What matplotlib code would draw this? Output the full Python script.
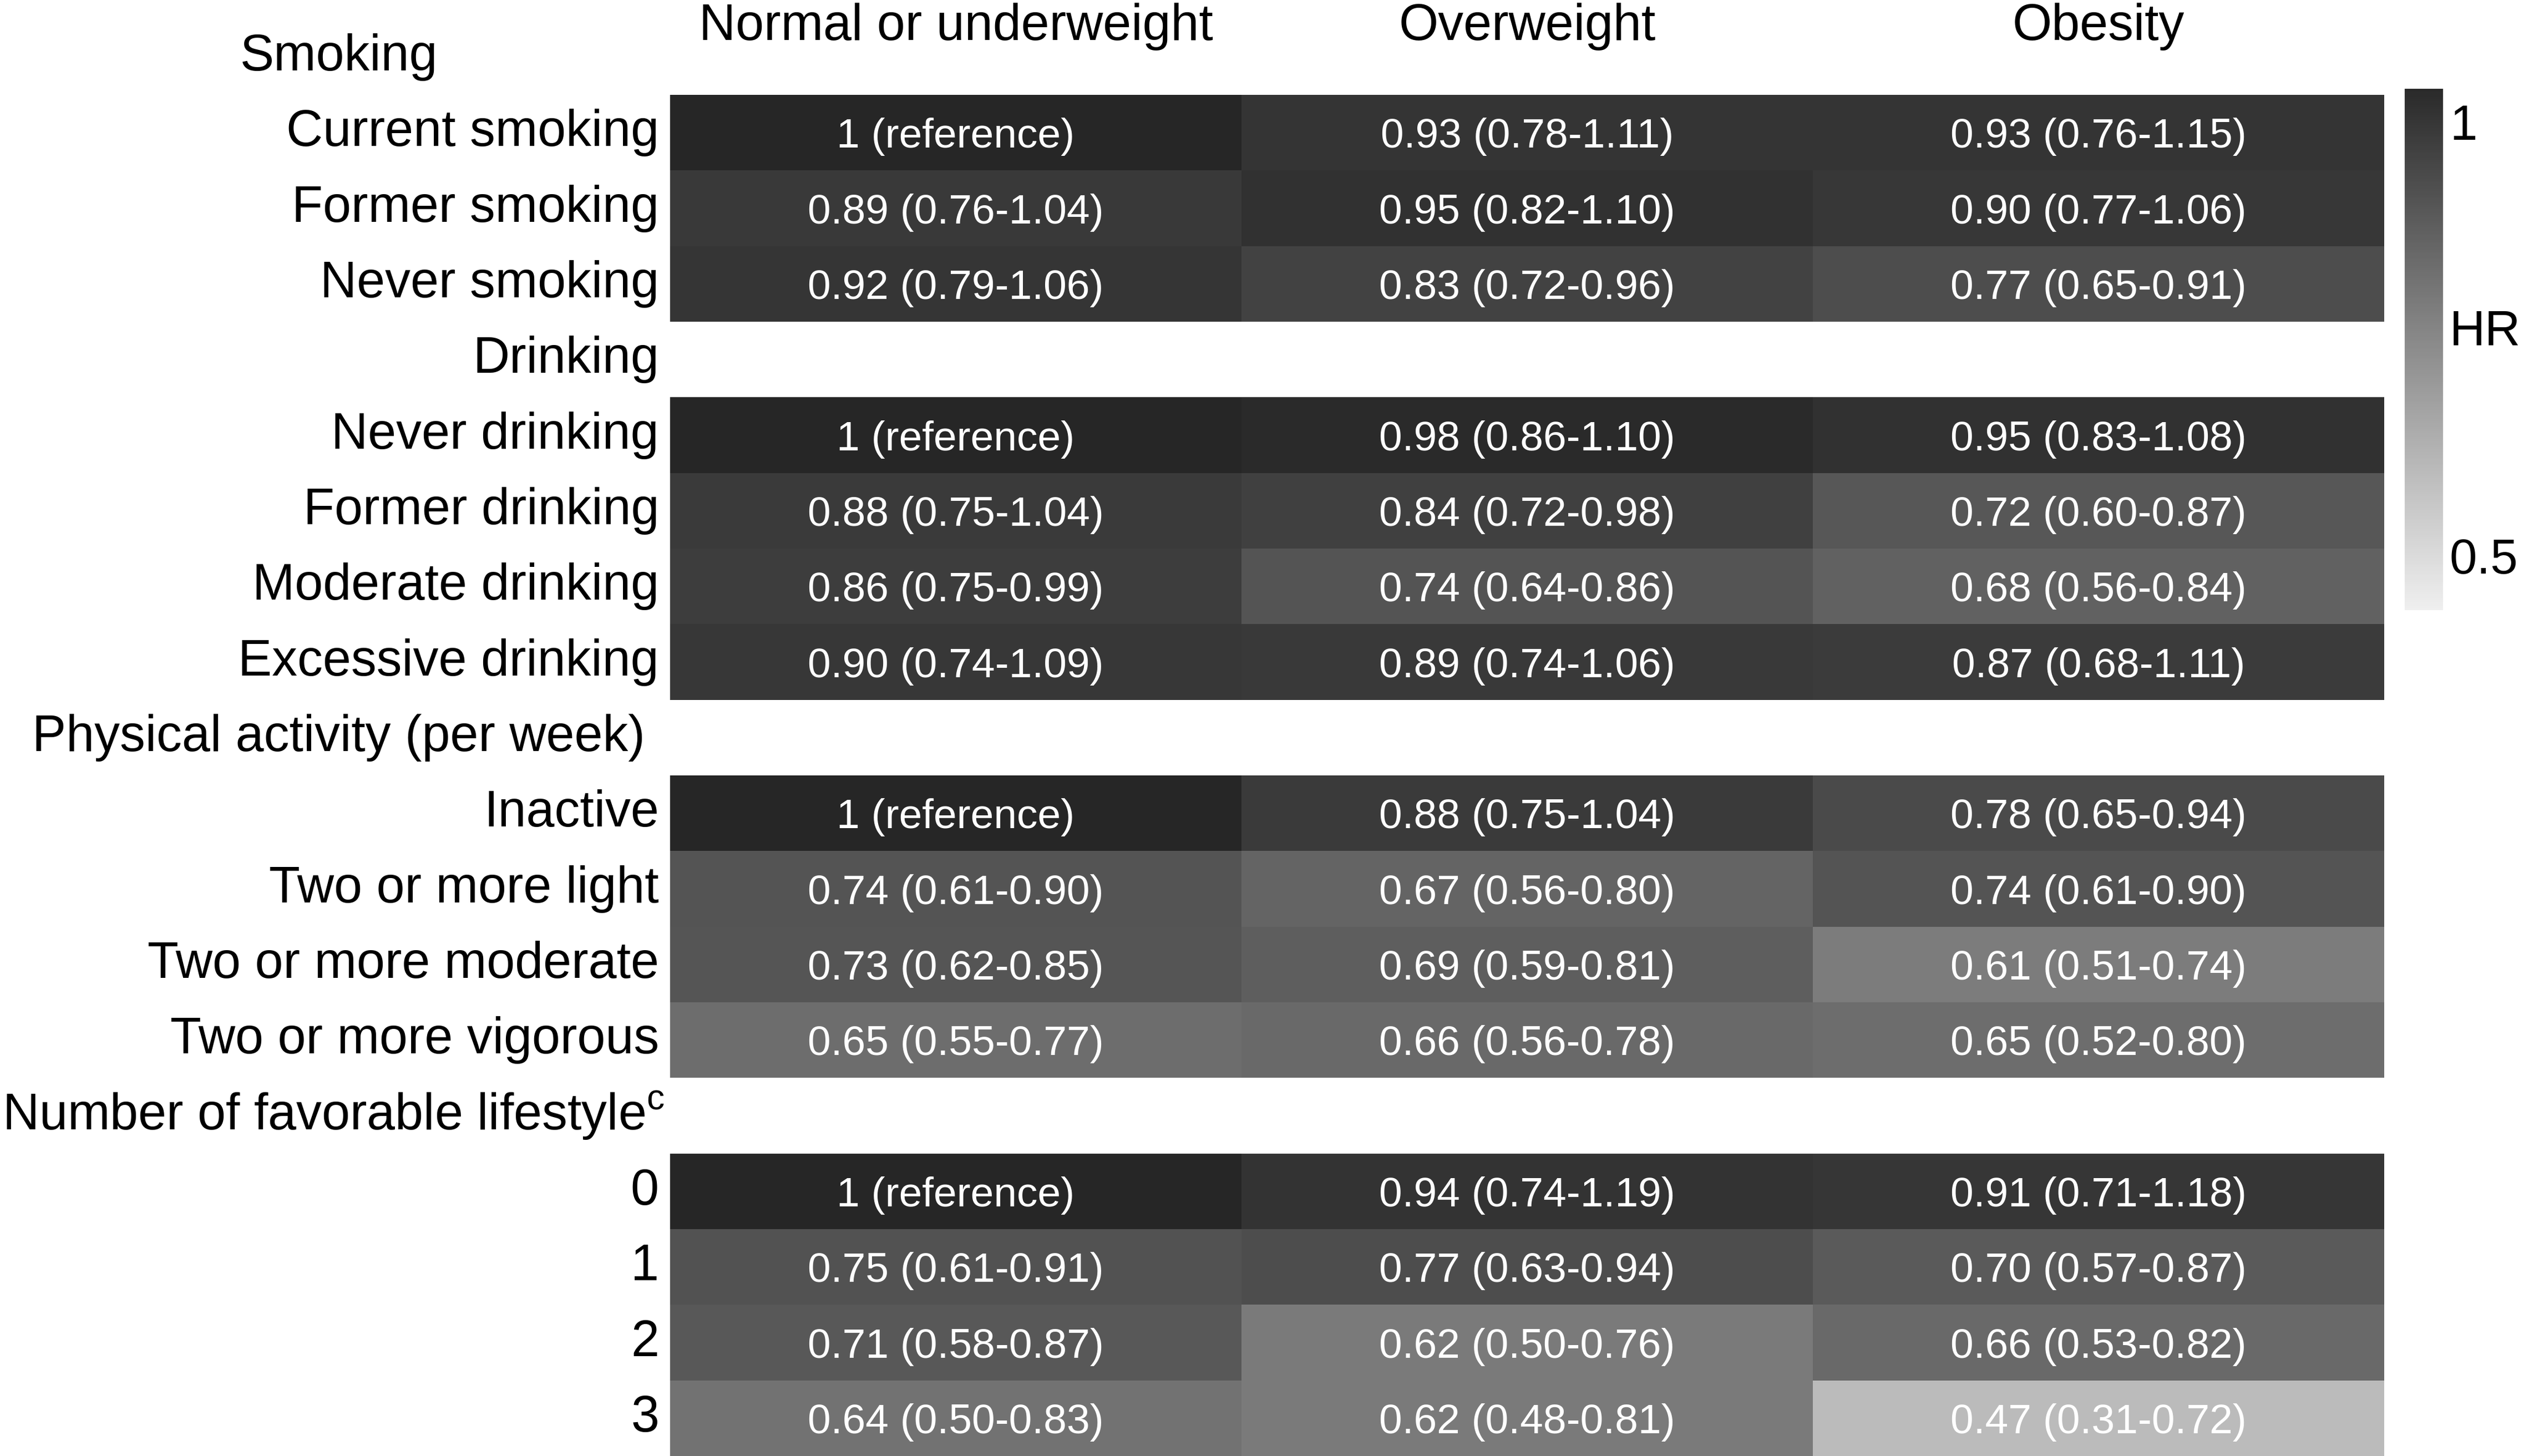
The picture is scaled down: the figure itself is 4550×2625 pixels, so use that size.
import numpy as np
import matplotlib
matplotlib.use('Agg')
import matplotlib.pyplot as plt
from matplotlib.colors import LinearSegmentedColormap, Normalize
from matplotlib.cm import ScalarMappable

plt.rcParams['font.family'] = ['Liberation Sans', 'DejaVu Sans']
plt.rcParams['mathtext.fontset'] = 'custom'
plt.rcParams['mathtext.rm'] = 'Liberation Sans'

bmi_groups = ["Normal or underweight", "Overweight", "Obesity"]
groups = ["Smoking", "Drinking", "Physical activity (per week)",
          r"Number of favorable lifestyle$^{\mathrm{c}}$"]
items = [["Current smoking", "Former smoking", "Never smoking"],
         ["Never drinking", "Former drinking", "Moderate drinking", "Excessive drinking"],
         ["Inactive", "Two or more light", "Two or more moderate", "Two or more vigorous"],
         ["0", "1", "2", "3"]]

# hazard ratios and 95% CI, one entry per item row (None = reference)
hr_normal = [1, 0.89, 0.92, 1, 0.88, 0.86, 0.90, 1, 0.74, 0.73, 0.65, 1, 0.75, 0.71, 0.64]
lo_normal = [None, 0.76, 0.79, None, 0.75, 0.75, 0.74, None, 0.61, 0.62, 0.55, None, 0.61, 0.58, 0.50]
hi_normal = [None, 1.04, 1.06, None, 1.04, 0.99, 1.09, None, 0.90, 0.85, 0.77, None, 0.91, 0.87, 0.83]

hr_over = [0.93, 0.95, 0.83, 0.98, 0.84, 0.74, 0.89, 0.88, 0.67, 0.69, 0.66, 0.94, 0.77, 0.62, 0.62]
lo_over = [0.78, 0.82, 0.72, 0.86, 0.72, 0.64, 0.74, 0.75, 0.56, 0.59, 0.56, 0.74, 0.63, 0.50, 0.48]
hi_over = [1.11, 1.10, 0.96, 1.10, 0.98, 0.86, 1.06, 1.04, 0.80, 0.81, 0.78, 1.19, 0.94, 0.76, 0.81]

hr_obese = [0.93, 0.90, 0.77, 0.95, 0.72, 0.68, 0.87, 0.78, 0.74, 0.61, 0.65, 0.91, 0.70, 0.66, 0.47]
lo_obese = [0.76, 0.77, 0.65, 0.83, 0.60, 0.56, 0.68, 0.65, 0.61, 0.51, 0.52, 0.71, 0.57, 0.53, 0.31]
hi_obese = [1.15, 1.06, 0.91, 1.08, 0.87, 0.84, 1.11, 0.94, 0.90, 0.74, 0.80, 1.18, 0.87, 0.82, 0.72]

hr_cols = [hr_normal, hr_over, hr_obese]
lo_cols = [lo_normal, lo_over, lo_obese]
hi_cols = [hi_normal, hi_over, hi_obese]

# colour scale
vmin, vmax = 0.437, 1.038
norm = Normalize(vmin=vmin, vmax=vmax)
cell_anchor_hr = [0.437, 0.47, 0.61, 0.62, 0.64, 0.66, 0.70, 0.75, 0.78, 0.88, 0.94, 1.0, 1.038]
cell_anchor_grey = [0.85, 0.733, 0.486, 0.478, 0.447, 0.408, 0.353, 0.322, 0.29, 0.227, 0.2, 0.149, 0.14]
cell_cmap = LinearSegmentedColormap.from_list(
    'cells', [((h - vmin) / (vmax - vmin), (g, g, g)) for h, g in zip(cell_anchor_hr, cell_anchor_grey)])
bar_cmap = LinearSegmentedColormap.from_list('bar', ['#efefef', '#2a2a2a'])

# build row layout: header rows have no cells
rows = []
for g, its in zip(groups, items):
    rows.append((g, 'header'))
    rows += [(i, 'item') for i in its]
n_rows = len(rows)
item_rows = [i for i, (lab, kind) in enumerate(rows) if kind == 'item']

grid = np.full((n_rows, len(bmi_groups)), np.nan)
for c in range(len(bmi_groups)):
    grid[item_rows, c] = hr_cols[c]

fig = plt.figure(figsize=(45.5, 26.25), dpi=100)
ax = fig.add_axes([0.26549, 0.0, 0.67912, 0.98677])
ax.pcolormesh(np.arange(len(bmi_groups) + 1), np.arange(n_rows + 1),
              np.ma.masked_invalid(grid), cmap=cell_cmap, norm=norm)
ax.set_xlim(0, len(bmi_groups))
ax.set_ylim(n_rows, 0)
ax.axis('off')

for k, r in enumerate(item_rows):
    for c in range(len(bmi_groups)):
        h, lo, hi = hr_cols[c][k], lo_cols[c][k], hi_cols[c][k]
        txt = f"{h:g} (reference)" if lo is None else f"{h:.2f} ({lo:.2f}-{hi:.2f})"
        ax.text(c + 0.5, r + 0.5, txt, ha='center', va='center_baseline',
                color='white', fontsize=54)

for c, name in enumerate(bmi_groups):
    ax.text(c + 0.5, 0.27, name, ha='center', va='baseline', fontsize=66)

ylab = ax.get_yaxis_transform()
header_pos = {"Smoking": (-0.2508, 'left'),
              "Physical activity (per week)": (-0.3722, 'left'),
              groups[3]: (-0.003, 'right')}
for i, (lab, kind) in enumerate(rows):
    x, ha = header_pos.get(lab, (-0.00647, 'right'))
    ax.text(x, i + 0.5, lab, ha=ha, va='center', fontsize=66, transform=ylab)

cax = fig.add_axes([0.95275, 0.58095, 0.015165, 0.3581])
cb = fig.colorbar(ScalarMappable(norm=norm, cmap=bar_cmap), cax=cax)
cb.outline.set_visible(False)
cb.set_ticks([0.5, 1], labels=['0.5', '1'])
cax.tick_params(length=0, pad=8.6, labelsize=64)
cax.text(1 + 12 / 69, 0.534, 'HR', transform=cax.transAxes, ha='left', va='center', fontsize=64)

fig.savefig('out.png', dpi=100)
